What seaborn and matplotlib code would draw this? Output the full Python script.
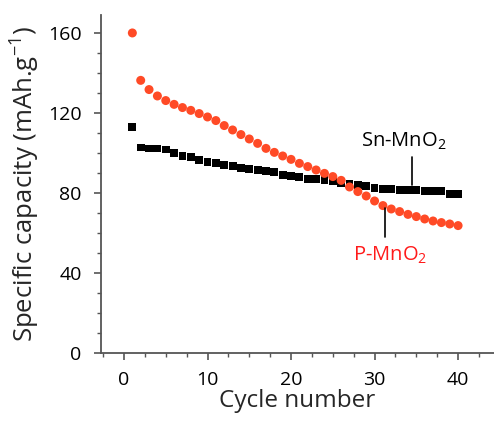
import numpy as np
import pandas as pd
import matplotlib
matplotlib.use('Agg')
import matplotlib.pyplot as plt
import seaborn as sns
from matplotlib.ticker import MultipleLocator

# data
cycles = list(range(1, 41))
p_mno2 = [160, 136.3, 131.7, 128.5, 126.2, 124.3, 122.7, 121.3, 119.7, 118,
          116.2, 113.7, 111.5, 109.2, 107, 104.8, 102.3, 100.3, 98.5, 96.8,
          94.8, 93.2, 91.5, 89.8, 88.2, 86.3, 83, 80.7, 78.5, 76,
          73.7, 72, 70.7, 69.3, 68.2, 67, 66, 65.2, 64.5, 63.7]
sn_mno2 = [113, 102.7, 102.2, 102.2, 101.7, 99.8, 98.7, 97.8, 96.5, 95.7,
           95.2, 94.2, 93.3, 92.7, 92, 91.5, 91, 90.3, 89.2, 88.5,
           87.8, 87.2, 86.8, 86.3, 86, 84.8, 84.5, 84, 83.5, 82.7,
           82, 81.8, 81.5, 81.5, 81.5, 81.2, 81.2, 81.2, 79.7, 79.5]

df = pd.DataFrame({'cycle': cycles, 'P-MnO2': p_mno2, 'Sn-MnO2': sn_mno2})

sns.set_style('ticks')
plt.rcParams['font.family'] = ['Open Sans', 'DejaVu Sans']
plt.rcParams['mathtext.fontset'] = 'custom'
plt.rcParams['mathtext.rm'] = 'Open Sans'

fig = plt.figure(figsize=(4.94, 4.21), dpi=100)
ax = fig.add_axes([0.2045, 0.1615, 0.7955, 0.803])

sns.scatterplot(data=df, x='cycle', y='Sn-MnO2', marker='s', color='black',
                s=32, edgecolor='none', ax=ax)
sns.scatterplot(data=df, x='cycle', y='P-MnO2', marker='o', color='#ff4a26',
                s=42, edgecolor='none', ax=ax)

ax.set_xlim(-2.75, 44.3)
ax.set_ylim(0, 169)
ax.xaxis.set_major_locator(MultipleLocator(10))
ax.xaxis.set_minor_locator(MultipleLocator(2.5))
ax.yaxis.set_major_locator(MultipleLocator(40))
ax.yaxis.set_minor_locator(MultipleLocator(10))

sns.despine(ax=ax)
for sp in ['left', 'bottom']:
    ax.spines[sp].set_color('#555555')
    ax.spines[sp].set_linewidth(1.3)
ax.tick_params(which='major', length=5, width=1.2, color='#555555',
               labelsize=14, labelcolor='black')
ax.tick_params(axis='x', which='major', pad=8)
ax.tick_params(axis='y', which='major', pad=9)
ax.tick_params(which='minor', length=3, width=1.0, color='#555555')

ax.set_xlabel('Cycle number', fontsize=17.5, labelpad=0)
ax.set_ylabel('Specific capacity (mAh.g$^{-1}$)', fontsize=18.5, labelpad=5)

# annotations
ax.plot([34.45, 34.45], [84, 98], color='black', lw=1.2)
ax.text(33.5, 105.6, 'Sn-MnO$_2$', ha='center', va='center', fontsize=14.5,
        color='black')
ax.plot([31.25, 31.25], [58, 72.5], color='black', lw=1.2)
ax.text(31.9, 49, 'P-MnO$_2$', ha='center', va='center', fontsize=14.5,
        color='#ff1a1a')

fig.savefig('out.png', dpi=100)
